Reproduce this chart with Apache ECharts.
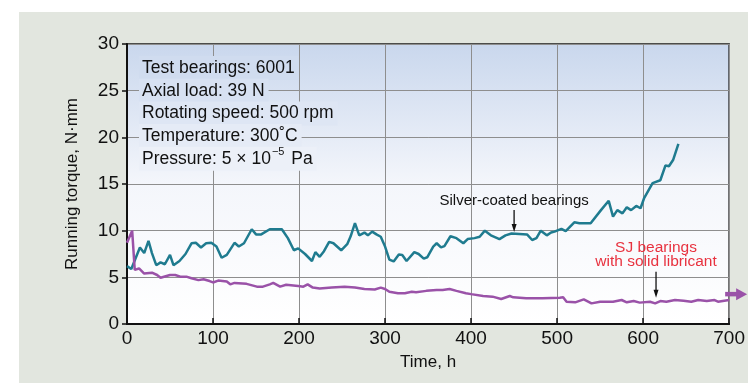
<!DOCTYPE html>
<html>
<head>
<meta charset="utf-8"/>
<title>Running torque</title>
<script src="https://cdn.jsdelivr.net/npm/echarts@6/dist/echarts.min.js"></script>
<style>
	html, body { margin: 0; padding: 0; background: #ffffff; }
	#panel { position: absolute; left: 19px; top: 12px; right: 0; bottom: 0; background: #e2e6df; }
	#chart { position: absolute; left: 0; top: 0; width: 748px; height: 383px; }
</style>
</head>
<body>
<div id="panel"></div>
<div id="chart"></div>
<script type="text/javascript">
	// silver-coated bearings (time h, torque N·mm)
	var silverTime = [0, 5, 15, 20, 25, 29, 34, 39, 44, 50, 54, 61, 68, 75, 80, 86, 92, 98, 104, 110, 116, 125, 130, 136, 145, 150, 156, 166, 180, 187,
		194, 199, 207, 215, 219, 224, 229, 235, 240, 249, 256, 260, 265, 270, 276, 280, 285, 290, 295, 300, 305, 310, 316, 320, 325, 334, 339, 345, 349, 356,
		360, 365, 369, 376, 383, 391, 396, 404, 410, 416, 423, 433, 440, 447, 456, 465, 471, 476, 481, 488, 493, 497, 505, 510, 520, 526, 539, 551, 560, 565,
		570, 576, 581, 586, 592, 597, 601, 611, 620, 626, 630, 635, 641];
	var silverTorque = [6.2, 5.9, 8.2, 7.6, 8.9, 7.6, 6.3, 6.6, 6.4, 7.4, 6.3, 6.75, 7.5, 8.65, 8.7, 8.2, 8.65, 8.7, 8.3, 7.1, 7.4, 8.7, 8.3, 8.65, 10.15, 9.6, 9.6, 10.15, 10.15, 9.2,
		7.9, 8.1, 7.5, 6.75, 7.7, 7.2, 7.8, 8.8, 8.65, 7.9, 8.55, 9.4, 10.8, 9.5, 9.8, 9.5, 9.9, 9.6, 9.35, 8.3, 6.9, 6.7, 7.45, 7.4, 6.75, 7.7, 7.5, 7.0, 7.15, 8.3,
		8.65, 8.2, 8.35, 9.4, 9.2, 8.65, 9.1, 9.2, 9.35, 10.0, 9.5, 9.1, 9.5, 9.7, 9.65, 9.6, 9.0, 9.2, 10.0, 9.5, 9.8, 9.9, 10.2, 9.95, 10.9, 10.8, 10.8, 12.2, 13.2, 11.5,
		12.2, 11.85, 12.5, 12.2, 12.65, 12.4, 13.45, 15.1, 15.4, 17.0, 16.9, 17.6, 19.3];

	// SJ bearings with solid lubricant
	var sjTime = [0, 6, 9, 14, 20, 29, 35, 39, 50, 56, 62, 69, 75, 83, 89, 96, 100, 106, 116, 120, 125, 139, 151, 158, 166, 170, 178, 185, 199, 205,
		210, 216, 224, 238, 253, 265, 276, 288, 295, 300, 305, 315, 323, 331, 336, 348, 360, 367, 375, 383, 394, 400, 414, 425, 435, 445, 449, 464, 483, 503,
		507, 511, 521, 531, 540, 550, 565, 575, 581, 589, 596, 608, 614, 620, 627, 637, 647, 656, 664, 674, 683, 687, 700];
	var sjTorque = [8.7, 10.0, 5.8, 5.95, 5.4, 5.5, 5.25, 4.96, 5.25, 5.25, 5.07, 5.07, 4.9, 4.7, 4.8, 4.6, 4.45, 4.65, 4.55, 4.25, 4.4, 4.3, 4.0, 4.0, 4.25, 4.4, 4.0, 4.2, 4.07, 4.0,
		4.25, 3.9, 3.8, 3.9, 4.0, 3.9, 3.75, 3.7, 3.9, 3.75, 3.45, 3.3, 3.3, 3.45, 3.4, 3.55, 3.65, 3.65, 3.75, 3.55, 3.3, 3.2, 3.0, 2.93, 2.68, 3.0, 2.86, 2.75, 2.75, 2.82,
		2.86, 2.39, 2.32, 2.64, 2.21, 2.39, 2.39, 2.57, 2.32, 2.46, 2.29, 2.39, 2.21, 2.46, 2.39, 2.57, 2.5, 2.39, 2.57, 2.46, 2.57, 2.39, 2.57];

	var infoLines = [
		'Test bearings: 6001',
		'Axial load: 39 N',
		'Rotating speed: 500 rpm',
		'Temperature: 300˚C',
		'Pressure: 5 × 10{sup|−5} Pa'
	];

	var FONT = '"Liberation Sans", Arial, sans-serif';
	var TEAL = '#1f7b8f', PURPLE = '#9a52a8';

	function zip(a, b) {
		var out = [];
		for (var i = 0; i < a.length; i++) out.push([a[i], b[i]]);
		return out;
	}

	var gradTop = [201, 215, 237], gradMid = [244, 246, 251];
	function bgAt(f) {
		// colour of plot gradient at fraction f from top
		var t = Math.min(f / 0.5, 1);
		var c = gradTop.map(function (v, k) { return Math.round(v + (gradMid[k] - v) * t); });
		return 'rgb(' + c.join(',') + ')';
	}

	var chart = echarts.init(document.getElementById('chart'));
	var option = {
		backgroundColor: 'transparent',
		animation: false,
		grid: {
			left: 127, right: 18, top: 44, bottom: 59,
			show: true,
			borderColor: '#1a1a1a',
			borderWidth: 1.5,
			backgroundColor: new echarts.graphic.LinearGradient(0, 0, 0, 1, [
				{offset: 0, color: 'rgb(201,215,237)'},
				{offset: 0.5, color: 'rgb(244,246,251)'},
				{offset: 1, color: '#ffffff'}
			])
		},
		xAxis: {
			type: 'value',
			min: 0, max: 700, interval: 100,
			name: 'Time, h',
			nameLocation: 'middle',
			nameGap: 30,
			nameTextStyle: {fontFamily: FONT, fontSize: 17, color: '#111'},
			axisLine: {lineStyle: {color: '#111', width: 2}},
			axisTick: {inside: true, length: 6, lineStyle: {color: '#111', width: 1.5}},
			axisLabel: {fontFamily: FONT, fontSize: 19, color: '#111', margin: 5},
			splitLine: {lineStyle: {color: '#8e8e8e', width: 1}}
		},
		yAxis: {
			type: 'value',
			min: 0, max: 30, interval: 5,
			name: 'Running torque, N·mm',
			nameLocation: 'middle',
			nameGap: 46,
			nameTextStyle: {fontFamily: FONT, fontSize: 17, color: '#111', padding: [0, 0, 0, 0]},
			axisLine: {show: true, lineStyle: {color: '#111', width: 2}},
			axisTick: {show: true, inside: false, length: 5, lineStyle: {color: '#111', width: 1.5}},
			axisLabel: {fontFamily: FONT, fontSize: 19, color: '#111', margin: 8},
			splitLine: {lineStyle: {color: '#8e8e8e', width: 1}}
		},
		series: [{
			name: 'Silver-coated bearings',
			type: 'line',
			data: zip(silverTime, silverTorque),
			showSymbol: false,
			lineStyle: {color: TEAL, width: 2.5},
			z: 3
		}, {
			name: 'SJ bearings with solid libricant',
			type: 'line',
			data: zip(sjTime, sjTorque),
			showSymbol: false,
			lineStyle: {color: PURPLE, width: 2.5},
			z: 3
		}]
	};
	chart.setOption(option);

	// annotations placed from data coordinates
	var gfx = [];
	infoLines.forEach(function (txt, i) {
		var y = 68 + i * 22.7;
		gfx.push({
			type: 'text', x: 139, y: y, z: 10,
			style: {
				text: txt, fill: '#111', font: '17.5px ' + FONT,
				verticalAlign: 'middle', align: 'left', lineHeight: 24,
				backgroundColor: bgAt((y - 44) / 280), padding: [0, 4, 0, 3],
				rich: {sup: {fontSize: 11, fontFamily: FONT, fill: '#111', verticalAlign: 'top', lineHeight: 12, padding: [0, 2, 0, 1]}}
			}
		});
	});

	function downArrow(x, y0, y1) {
		gfx.push({type: 'line', z: 10, shape: {x1: x, y1: y0, x2: x, y2: y1 - 6}, style: {stroke: '#111', lineWidth: 1.3}});
		gfx.push({type: 'polygon', z: 10, shape: {points: [[x - 2.5, y1 - 8], [x + 2.5, y1 - 8], [x, y1]]}, style: {fill: '#111'}});
	}

	var ps = chart.convertToPixel({gridIndex: 0}, [450, 9.75]);
	gfx.push({type: 'text', x: ps[0], y: ps[1] - 32, z: 10,
		style: {text: 'Silver-coated bearings', fill: '#111', font: '15px ' + FONT, align: 'center', verticalAlign: 'middle'}});
	downArrow(ps[0], ps[1] - 23, ps[1] - 1);

	var pj = chart.convertToPixel({gridIndex: 0}, [615, 2.7]);
	gfx.push({type: 'text', x: pj[0], y: pj[1] - 51, z: 10,
		style: {text: 'SJ bearings', fill: '#e8323f', font: '15.5px ' + FONT, align: 'center', verticalAlign: 'middle'}});
	gfx.push({type: 'text', x: pj[0], y: pj[1] - 37, z: 10,
		style: {text: 'with solid libricant', fill: '#e8323f', font: '15.5px ' + FONT, align: 'center', verticalAlign: 'middle'}});
	downArrow(pj[0], pj[1] - 27, pj[1] - 1);

	// continuing arrow at the end of the SJ curve
	var pe = chart.convertToPixel({gridIndex: 0}, [700, 3.2]);
	gfx.push({type: 'line', z: 10, shape: {x1: pe[0] - 4, y1: pe[1], x2: pe[0] + 8, y2: pe[1]}, style: {stroke: PURPLE, lineWidth: 4.5}});
	gfx.push({type: 'polygon', z: 10, shape: {points: [[pe[0] + 7, pe[1] - 6], [pe[0] + 18, pe[1]], [pe[0] + 7, pe[1] + 6]]}, style: {fill: PURPLE}});

	chart.setOption({graphic: gfx});
</script>
</body>
</html>
